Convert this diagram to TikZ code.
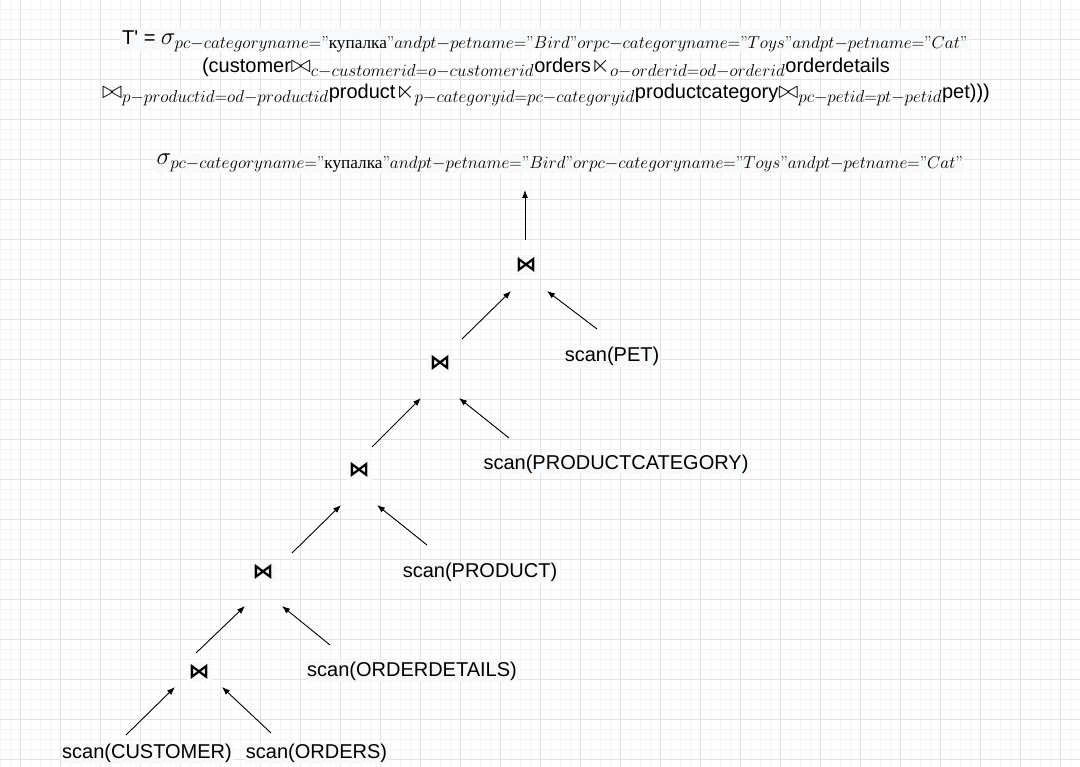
\RequirePackage{fix-cm}
\documentclass[tikz,border=0pt]{standalone}
\usepackage{amsmath}
\usepackage{amssymb}
\usepackage{fontspec}
\usetikzlibrary{arrows.meta}
\newfontfamily\arialfont{Liberation Sans}
\newfontfamily\symfont{DejaVu Sans}
\newfontfamily\cyrfont{Liberation Serif}
\definecolor{labelbg}{RGB}{248,249,250}
\definecolor{gridmajor}{RGB}{226,226,226}
\definecolor{gridminor}{RGB}{244,244,244}
\newcommand{\mjsize}{\fontsize{24.6}{29}\selectfont}
\newcommand{\qmark}{\text{\normalfont ”}}
\newcommand{\selcond}{pc-categoryname=\qmark\text{\cyrfont купалка}\qmark andpt-petname=\qmark Bird\qmark orpc-categoryname=\qmark Toys\qmark andpt-petname=\qmark Cat\qmark}
\tikzset{
  join_/.style  = {fill=labelbg, inner sep=2pt, font=\fontsize{21}{24}\selectfont\symfont\bfseries},
  scan_/.style  = {fill=labelbg, inner sep=1pt},
  label_/.style = {anchor=base, inner sep=0pt, text height=12pt, text depth=4pt},
  arr_/.style   = {draw, line width=0.9pt, -{Latex[length=8pt,width=6pt]}}
}
\begin{document}
\begin{tikzpicture}
		[
		x                 = 1pt,
		y                 = -1pt,
		every node/.style = {font=\fontsize{20}{24}\selectfont\arialfont}
		]
		\useasboundingbox (0,0) rectangle (1080,767);
		% canvas grid
		\foreach \gx in {0,10,...,1080} \draw[gridminor, line width=0.6pt] (\gx,0) -- (\gx,767);
		\foreach \gy in {9,19,...,767} \draw[gridminor, line width=0.6pt] (0,\gy) -- (1080,\gy);
		\foreach \gx in {20,60,...,1080} \draw[gridmajor, line width=0.8pt] (\gx,0) -- (\gx,767);
		\foreach \gy in {39,79,...,767} \draw[gridmajor, line width=0.8pt] (0,\gy) -- (1080,\gy);
		% expression
		\node [label_, fill=labelbg, inner sep=1pt, text height=16pt, text depth=5pt] (expr1) at (545,45) {T' = {\mjsize$\sigma_{\selcond}$}};
		\node [label_] (expr2) at (546,73) {(customer{\mjsize$\bowtie_{c-customerid=o-customerid}$}orders{\mjsize$\ltimes_{o-orderid=od-orderid}$}orderdetails};
		\node [label_] (expr3) at (546,99) {{\mjsize$\bowtie_{p-productid=od-productid}$}product{\mjsize$\ltimes_{p-categoryid=pc-categoryid}$}productcategory{\mjsize$\bowtie_{pc-petid=pt-petid}$}pet)))};
		% tree
		\node [fill=labelbg, inner sep=1pt] (sel) at (560,163) {\mjsize$\sigma_{\selcond}$};
		\node [join_] (j1) at (526,265) {⋈};
		\node [join_] (j2) at (440,363) {⋈};
		\node [join_] (j3) at (359,470) {⋈};
		\node [join_] (j4) at (263,572) {⋈};
		\node [join_] (j5) at (199,671.5) {⋈};
		\node [scan_] (pet) at (612,356.5) {scan(PET)};
		\node [scan_] (pcat) at (616,464) {scan(PRODUCTCATEGORY)};
		\node [scan_] (prod) at (480,572) {scan(PRODUCT)};
		\node [scan_] (odet) at (412,671.5) {scan(ORDERDETAILS)};
		\node [scan_] (cust) at (147,753.5) {scan(CUSTOMER)};
		\node [scan_] (ord) at (316.5,753.5) {scan(ORDERS)};
		\draw[arr_] ([shift={(-1,-25)}]j1.center) -- ([shift={(-35,27)}]sel.center);
		\draw[arr_] ([shift={(22,-24)}]j2.center) -- ([shift={(-15,26)}]j1.center);
		\draw[arr_] ([shift={(-15,-27.5)}]pet.center) -- ([shift={(21,26)}]j1.center);
		\draw[arr_] ([shift={(13,-23)}]j3.center) -- ([shift={(-19,35)}]j2.center);
		\draw[arr_] ([shift={(-107,-26)}]pcat.center) -- ([shift={(19,35)}]j2.center);
		\draw[arr_] ([shift={(29,-19)}]j4.center) -- ([shift={(-18,35)}]j3.center);
		\draw[arr_] ([shift={(-53,-27)}]prod.center) -- ([shift={(18,35)}]j3.center);
		\draw[arr_] ([shift={(-3,-18.5)}]j5.center) -- ([shift={(-18,34)}]j4.center);
		\draw[arr_] ([shift={(-82,-26.5)}]odet.center) -- ([shift={(19,34)}]j4.center);
		\draw[arr_] ([shift={(-21,-18.5)}]cust.center) -- ([shift={(-24,15.5)}]j5.center);
		\draw[arr_] ([shift={(-45.5,-20.5)}]ord.center) -- ([shift={(23,15.5)}]j5.center);
\end{tikzpicture}
\end{document}
